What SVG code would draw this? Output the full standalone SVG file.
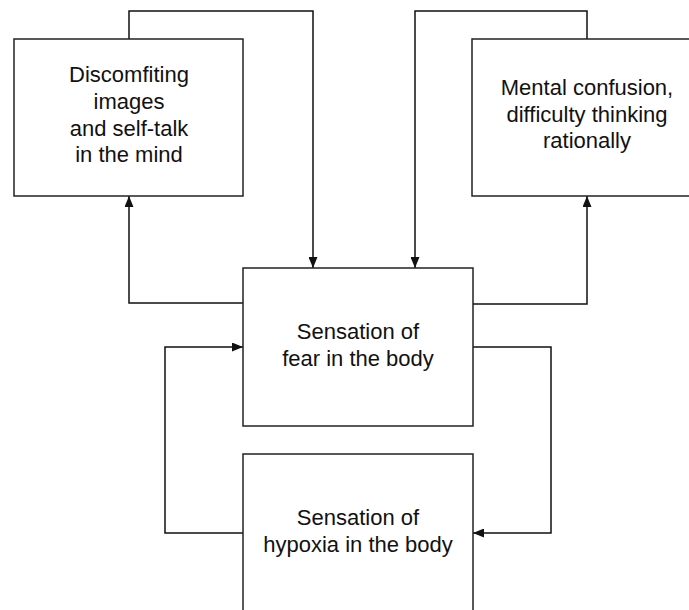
<svg xmlns="http://www.w3.org/2000/svg" width="689" height="610" viewBox="0 0 689 610">
<style>
.box{fill:#fff;stroke:#222;stroke-width:1.5}
.lbl{font-family:"Liberation Sans",Arial,sans-serif;font-size:22px;fill:#111;text-anchor:middle}
.c{fill:none;stroke:#111;stroke-width:1.5}
</style>
<defs>
<marker id="ah" viewBox="0 0 11 9" refX="11" refY="4.5" markerWidth="11" markerHeight="9" markerUnits="userSpaceOnUse" orient="auto">
<path d="M0,0 L11,4.5 L0,9 Z" fill="#111"/>
</marker>
</defs>
<rect width="689" height="610" fill="#fff"/>
<g id="connectors">
<path class="c" d="M129,39 V11 H313 V268" marker-end="url(#ah)"/>
<path class="c" d="M587,39 V11 H415 V268" marker-end="url(#ah)"/>
<path class="c" d="M243,303 H129 V196" marker-end="url(#ah)"/>
<path class="c" d="M473,304 H587 V196" marker-end="url(#ah)"/>
<path class="c" d="M243,533 H165 V347 H243" marker-end="url(#ah)"/>
<path class="c" d="M473,347 H551 V533 H473" marker-end="url(#ah)"/>
</g>
<g id="node-discomfiting">
<rect class="box" x="14" y="39" width="229" height="157"/>
<text class="lbl" x="129" y="82">Discomfiting</text>
<text class="lbl" x="129" y="109">images</text>
<text class="lbl" x="129" y="135.5">and self-talk</text>
<text class="lbl" x="129" y="162">in the mind</text>
</g>
<g id="node-confusion">
<rect class="box" x="472" y="39" width="230" height="157"/>
<text class="lbl" x="587" y="95">Mental confusion,</text>
<text class="lbl" x="587" y="121.5">difficulty thinking</text>
<text class="lbl" x="587" y="148">rationally</text>
</g>
<g id="node-fear">
<rect class="box" x="243" y="268" width="230" height="158"/>
<text class="lbl" x="358" y="339">Sensation of</text>
<text class="lbl" x="358" y="365.5">fear in the body</text>
</g>
<g id="node-hypoxia">
<rect class="box" x="243" y="454" width="230" height="170"/>
<text class="lbl" x="358" y="525">Sensation of</text>
<text class="lbl" x="358" y="551.5">hypoxia in the body</text>
</g>
</svg>
